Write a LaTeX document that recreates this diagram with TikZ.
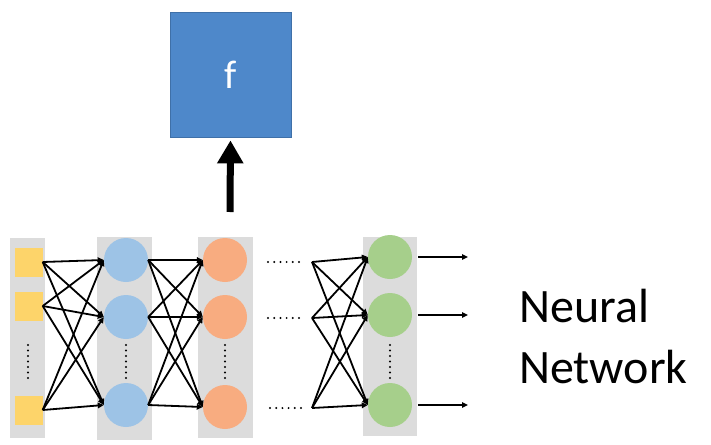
\documentclass[tikz,border=0pt]{standalone}
\usepackage{fontspec}
\setmainfont{Carlito}
\usetikzlibrary{arrows.meta}
\definecolor{colgray}{HTML}{DCDCDC}
\definecolor{inyel}{HTML}{FDD46A}
\definecolor{hblue}{HTML}{9DC3E6}
\definecolor{horange}{HTML}{F8AC80}
\definecolor{hgreen}{HTML}{A6CF8B}
\definecolor{fblue}{HTML}{4E88CA}
\definecolor{fborder}{HTML}{3F70A8}
\tikzset{
  colbox/.style={fill=colgray, draw=none, inner sep=0pt, minimum width=#1},
  insq/.style={fill=inyel, draw=none, inner sep=0pt, minimum width=28pt, minimum height=29pt},
  neuron/.style={circle, fill=#1, draw=none, inner sep=0pt, minimum size=44pt},
  edge/.style={line width=1.8pt, -{Triangle[length=6pt,width=5.5pt]}},
  outedge/.style={line width=1.5pt, -{Triangle[length=6pt,width=5.5pt]}},
  vdots/.style={line width=2.4pt, line cap=round, dash pattern=on 0pt off 5.5pt},
  hdots/.style={line width=2.2pt, line cap=round, dash pattern=on 0pt off 6.2pt},
  bigarrow/.style={line width=7pt, -{Triangle[length=23pt,width=25pt]}},
}
\begin{document}
\begin{tikzpicture}[x=1pt,y=-1pt]
\useasboundingbox (0,0) rectangle (711,444);
% columns
\node[colbox=35pt, minimum height=200pt] (c0) at (27.5,338) {};
\node[colbox=55pt, minimum height=203pt] (c1) at (124.5,338.5) {};
\node[colbox=55pt, minimum height=201pt] (c2) at (225.5,337.5) {};
\node[colbox=54pt, minimum height=199pt] (c3) at (390,336.5) {};
% input squares
\node[insq] (i1) at (28.5,262) {};
\node[insq] (i2) at (28.5,306) {};
\node[insq] (i3) at (28.5,410) {};
% hidden 1
\node[neuron=hblue] (b1) at (126,260) {};
\node[neuron=hblue] (b2) at (126,317) {};
\node[neuron=hblue] (b3) at (126,405) {};
% hidden 2
\node[neuron=horange] (o1) at (225,260) {};
\node[neuron=horange] (o2) at (225,317) {};
\node[neuron=horange] (o3) at (225,407) {};
% output layer
\node[neuron=hgreen] (g1) at (390,257) {};
\node[neuron=hgreen] (g2) at (390,315) {};
\node[neuron=hgreen] (g3) at (390,405) {};
% vertical dots
\coordinate (v0a) at (28,345); \coordinate (v0b) at (28,379);
\coordinate (v1a) at (126,345); \coordinate (v1b) at (126,379);
\coordinate (v2a) at (225,345); \coordinate (v2b) at (225,379);
\coordinate (v3a) at (390,345); \coordinate (v3b) at (390,379);
\draw[vdots] (v0a) -- (v0b);
\draw[vdots] (v1a) -- (v1b);
\draw[vdots] (v2a) -- (v2b);
\draw[vdots] (v3a) -- (v3b);
% horizontal dots
\coordinate (h1a) at (268,262); \coordinate (h1b) at (300,262);
\coordinate (h2a) at (268,318); \coordinate (h2b) at (300,318);
\coordinate (h3a) at (270,408); \coordinate (h3b) at (302,408);
\draw[hdots] (h1a) -- (h1b);
\draw[hdots] (h2a) -- (h2b);
\draw[hdots] (h3a) -- (h3b);
% left ends before the green layer
\coordinate (d1) at (312,262);
\coordinate (d2) at (312,318);
\coordinate (d3) at (312,408);
% edges
\foreach \s in {i1,i2,i3}{\foreach \t in {b1,b2,b3}{\draw[edge] (\s.east) -- (\t.west);}}
\foreach \s in {b1,b2,b3}{\foreach \t in {o1,o2,o3}{\draw[edge] (\s.east) -- (\t.west);}}
\foreach \s in {d1,d2,d3}{\foreach \t in {g1,g2,g3}{\draw[edge] (\s) -- (\t.west);}}
% outputs
\coordinate (e1) at (468,257);
\coordinate (e2) at (468,315);
\coordinate (e3) at (468,405);
\draw[outedge] ([xshift=6pt]g1.east) -- (e1);
\draw[outedge] ([xshift=6pt]g2.east) -- (e2);
\draw[outedge] ([xshift=6pt]g3.east) -- (e3);
% function box
\node[fill=fblue, draw=fborder, line width=0.8pt, minimum width=121pt, minimum height=125pt, inner sep=0pt,
  text=white, font=\fontsize{40}{44}\selectfont] (f) at (230.5,74.5) {f};
\coordinate (astart) at (230,212);
\draw[bigarrow, shorten >=3pt] (astart) -- (f.south);
% label
\node[anchor=base west, inner sep=0pt, font=\fontsize{48}{56}\selectfont] (l1) at (519,322) {Neural};
\node[anchor=base west, inner sep=0pt, font=\fontsize{48}{56}\selectfont] (l2) at (519,383) {Network};
\end{tikzpicture}
\end{document}
